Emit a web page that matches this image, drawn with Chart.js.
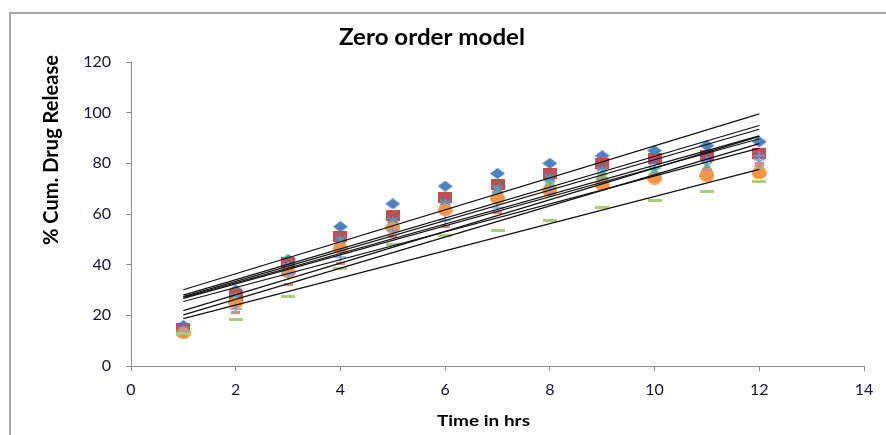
<!DOCTYPE html>
<html>
<head>
<meta charset="utf-8">
<title>Zero order model</title>
<script src="https://cdn.jsdelivr.net/npm/chart.js@4"></script>
<style>
  html, body { margin: 0; padding: 0; background: #fff; }
  canvas { display: block; }
</style>
</head>
<body>
<canvas id="chart" width="886" height="435"></canvas>
<script>
// sampling times (hrs)
const times = [1, 2, 3, 4, 5, 6, 7, 8, 9, 10, 11, 12];

// % cumulative drug release, one array per formulation
const f1 = [16, 30, 42, 55, 64, 71, 76, 80, 83, 85, 87, 88.5];
const f2 = [15, 28, 41, 51, 59.5, 66.5, 71.5, 76, 80, 82, 83, 84];
const f3 = [14, 27, 39, 48, 56, 63, 69, 72.5, 75.5, 77, 78.5, 79];
const f4 = [15, 28, 40, 50, 58, 65, 70, 74.5, 78.5, 81, 82, 83];
const f5 = [14, 27, 39, 49.5, 57, 64, 69.5, 74, 77, 77, 79, 80.5];
const f6 = [13, 25, 37, 46.5, 54.5, 61.5, 66, 69, 71.5, 74, 75, 76];
const f7 = [14, 22.5, 36, 43, 53.5, 57.5, 62.5, 70, 74, 78, 81, 83];
const f8 = [14, 21, 32, 40.5, 51, 55, 60.5, 68.5, 72.5, 75.5, 77.5, 80];
const f9 = [13, 18.5, 27.5, 38.5, 48, 51.5, 53.5, 57.5, 62.5, 65.5, 69, 73];

const seriesNames = ['F1', 'F2', 'F3', 'F4', 'F5', 'F6', 'F7', 'F8', 'F9'];
const seriesData = [f1, f2, f3, f4, f5, f6, f7, f8, f9];

// excel-ish marker look for each series
const markerKinds = ['diamond', 'square', 'triangle', 'cross', 'star', 'circle', 'plus', 'dash', 'longdash'];
const markerColors = ['#4F81BD', '#C0504D', '#9BBB59', '#8064A2', '#4BACC6', '#F79646', '#7A9AD0', '#D98A8C', '#AFC983'];

// y axis ticks
const yMin = 0, yMax = 120, yStep = 20;
// x axis ticks
const xMin = 0, xMax = 14, xStep = 2;

// small canvases used as point styles (markers are a bit wider than tall)
function makeMarker(kind, color) {
  const sizes = {
    diamond: [15, 11], square: [14, 11], triangle: [14, 11], cross: [12, 10],
    star: [12, 10], circle: [15, 12], plus: [12, 10], dash: [9, 3], longdash: [14, 3]
  };
  const [w, h] = sizes[kind];
  const c = document.createElement('canvas');
  c.width = w;
  c.height = h;
  const g = c.getContext('2d');
  g.fillStyle = color;
  g.strokeStyle = color;
  g.lineWidth = 2;
  g.beginPath();
  switch (kind) {
    case 'diamond':
      g.moveTo(w / 2, 0); g.lineTo(w, h / 2); g.lineTo(w / 2, h); g.lineTo(0, h / 2);
      g.closePath(); g.fill();
      break;
    case 'square':
      g.fillRect(0, 0, w, h);
      break;
    case 'triangle':
      g.moveTo(w / 2, 0); g.lineTo(w, h); g.lineTo(0, h);
      g.closePath(); g.fill();
      break;
    case 'cross':
      g.moveTo(1, 1); g.lineTo(w - 1, h - 1); g.moveTo(w - 1, 1); g.lineTo(1, h - 1);
      g.stroke();
      break;
    case 'star':
      g.lineWidth = 1.6;
      g.moveTo(1, 1); g.lineTo(w - 1, h - 1); g.moveTo(w - 1, 1); g.lineTo(1, h - 1);
      g.moveTo(w / 2, 0); g.lineTo(w / 2, h);
      g.stroke();
      break;
    case 'circle':
      g.ellipse(w / 2, h / 2, w / 2, h / 2, 0, 0, Math.PI * 2);
      g.fill();
      break;
    case 'plus':
      g.lineWidth = 1.5;
      g.moveTo(0, h / 2); g.lineTo(w, h / 2); g.moveTo(w / 2, 0); g.lineTo(w / 2, h);
      g.stroke();
      break;
    default: // dash, longdash
      g.fillRect(0, 0, w, h);
  }
  return c;
}

// least squares line through a series, from first to last time point
function trendline(ys) {
  const n = ys.length;
  const mx = times.reduce((a, b) => a + b, 0) / n;
  const my = ys.reduce((a, b) => a + b, 0) / n;
  let sxy = 0, sxx = 0;
  times.forEach((x, i) => {
    sxy += (x - mx) * (ys[i] - my);
    sxx += (x - mx) * (x - mx);
  });
  const slope = sxy / sxx;
  const icpt = my - slope * mx;
  const x0 = times[0], x1 = times[n - 1];
  return [{ x: x0, y: icpt + slope * x0 }, { x: x1, y: icpt + slope * x1 }];
}

const datasets = [];
seriesData.forEach((ys, i) => {
  datasets.push({
    label: seriesNames[i],
    data: times.map((t, k) => ({ x: t, y: ys[k] })),
    pointStyle: makeMarker(markerKinds[i], markerColors[i]),
    pointRadius: 6,
    pointHoverRadius: 6,
    showLine: false,
    order: seriesData.length - i // later series sit on top
  });
});
seriesData.forEach((ys, i) => {
  datasets.push({
    label: 'Linear (' + seriesNames[i] + ')',
    data: trendline(ys),
    showLine: true,
    borderColor: '#111',
    borderWidth: 1.25,
    pointRadius: 0,
    order: 0
  });
});

function fitText(ctx, text, x, y, length, font, rotate) {
  ctx.save();
  ctx.font = font;
  ctx.fillStyle = '#000';
  ctx.textAlign = 'center';
  ctx.textBaseline = 'alphabetic';
  ctx.translate(x, y);
  if (rotate) ctx.rotate(-Math.PI / 2);
  ctx.scale(length / ctx.measureText(text).width, 1);
  ctx.fillText(text, 0, 0);
  ctx.restore();
}

// frame, title and axis titles
const decor = {
  id: 'decor',
  beforeDraw(chart) {
    const ctx = chart.ctx;
    ctx.save();
    ctx.fillStyle = '#fff';
    ctx.fillRect(0, 0, chart.width, chart.height);
    ctx.strokeStyle = '#a8a8a8';
    ctx.lineWidth = 2;
    ctx.beginPath();
    ctx.moveTo(10, chart.height);
    ctx.lineTo(10, 13);
    ctx.lineTo(chart.width, 13);
    ctx.stroke();
    ctx.restore();
  },
  afterDraw(chart) {
    const ctx = chart.ctx;
    fitText(ctx, 'Zero order model', 432, 45, 186, 'bold 22px Lato', false);
    fitText(ctx, '% Cum. Drug Release', 58, 150, 190, 'bold 21px Lato', true);
    fitText(ctx, 'Time in hrs', 483.5, 426, 93, 'bold 16px Lato', false);
  }
};

const axisGrey = '#8c8c8c';
const tickFont = { family: 'Lato', size: 16 };

new Chart(document.getElementById('chart'), {
  type: 'scatter',
  data: { datasets: datasets },
  options: {
    responsive: false,
    animation: false,
    layout: { padding: { left: 0, top: 62, right: 22, bottom: 0 } },
    plugins: {
      legend: { display: false },
      title: { display: false },
      tooltip: { enabled: false }
    },
    scales: {
      x: {
        type: 'linear',
        min: xMin,
        max: xMax,
        ticks: { stepSize: xStep, padding: 9, color: '#14142a', font: tickFont },
        grid: { drawOnChartArea: false, tickLength: 5, color: axisGrey },
        border: { color: axisGrey, width: 1 },
        afterFit(scale) { scale.height = 69; }
      },
      y: {
        min: yMin,
        max: yMax,
        ticks: { stepSize: yStep, padding: 15, color: '#14142a', font: tickFont },
        grid: { drawOnChartArea: false, tickLength: 5, color: axisGrey },
        border: { color: axisGrey, width: 1 },
        afterFit(scale) { scale.width = 131; }
      }
    }
  },
  plugins: [decor]
});
</script>
</body>
</html>
